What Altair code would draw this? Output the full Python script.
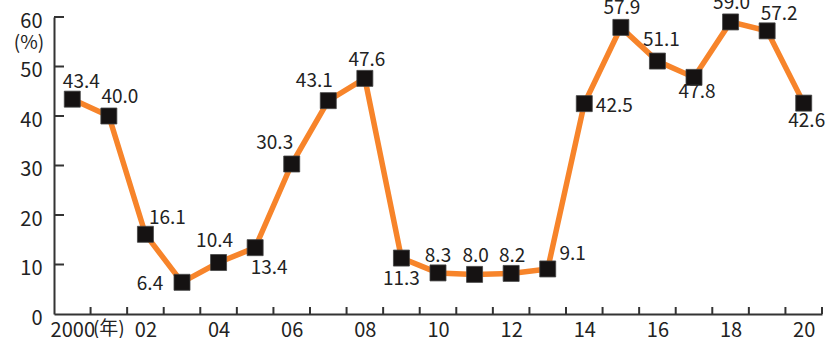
import altair as alt
import pandas as pd

YEARS = list(range(2000, 2021))
VALUES = [43.4, 40.0, 16.1, 6.4, 10.4, 13.4, 30.3, 43.1, 47.6, 11.3,
          8.3, 8.0, 8.2, 9.1, 42.5, 57.9, 51.1, 47.8, 59.0, 57.2, 42.6]
Y_TICKS = [0, 10, 20, 30, 40, 50, 60]
X_LABEL_YEARS = list(range(2000, 2021, 2))
X_TICK_POS = [y + 0.5 for y in range(2000, 2021)]

# label offsets (style): pixel dx, dy of each value label from its point
LABEL_DX = [9, 11, 22, -32, -4, 14, -17, -14, 2, 0, 0, 1, 1, 25, 30, 1, 4, 3, 1, 12, 3]
LABEL_DY = [-17, -19, -16, 2, -22, 20, -21, -20, -18, 21, -17, -18, -17, -15, 2, -19, -21, 15, -19, -17, 18]

W, H = 768, 297
FONT = "Noto Sans CJK JP"
ORANGE = "#F7842A"
INK = "#222222"

df = pd.DataFrame({"year": YEARS, "value": VALUES})
xscale = alt.Scale(domain=[1999.5, 2020.5], nice=False, zero=False)
yscale = alt.Scale(domain=[0, 60], nice=False)

base = alt.Chart(df)

line = base.mark_line(color=ORANGE, strokeWidth=5.5).encode(
    x=alt.X("year:Q", scale=xscale,
            axis=alt.Axis(values=X_LABEL_YEARS, grid=False, ticks=False, tickSize=0,
                          labelExpr="datum.value == 2000 ? '2000' : substring(toString(datum.value), 2, 4)",
                          labelFont=FONT, labelFontSize=20, labelColor=INK, labelPadding=6,
                          domainColor="#333333", domainWidth=2, title=None,
                          labelBaseline="top", labelFlush=False, labelOverlap=False)),
    y=alt.Y("value:Q", scale=yscale,
            axis=alt.Axis(values=Y_TICKS, grid=False, ticks=False, tickSize=0,
                          labelFont=FONT, labelFontSize=20, labelColor=INK, labelPadding=12,
                          labelOffset=4, domainColor="#333333", domainWidth=2, title=None,
                          labelFlush=False, labelOverlap=False)),
)

points = base.mark_square(size=256, color="#151212", opacity=1,
                          stroke="#444444", strokeWidth=0.8).encode(
    x=alt.X("year:Q", scale=xscale), y=alt.Y("value:Q", scale=yscale))

labels = []
for yr, dx, dy in zip(YEARS, LABEL_DX, LABEL_DY):
    labels.append(
        base.transform_filter(alt.datum.year == yr)
        .mark_text(font=FONT, fontSize=19, color=INK, dx=dx, dy=dy,
                   align="center", baseline="middle")
        .encode(x=alt.X("year:Q", scale=xscale), y=alt.Y("value:Q", scale=yscale),
                text=alt.Text("value:Q", format=".1f"))
    )

ytick_df = pd.DataFrame({"v": Y_TICKS[1:]})
yticks = alt.Chart(ytick_df).mark_rule(color="#333333", strokeWidth=2).encode(
    y=alt.Y("v:Q", scale=yscale), x=alt.value(0), x2=alt.value(10))

xtick_df = pd.DataFrame({"p": X_TICK_POS})
xticks = alt.Chart(xtick_df).mark_rule(color="#333333", strokeWidth=2).encode(
    x=alt.X("p:Q", scale=xscale), y=alt.value(H), y2=alt.value(H - 7))

unit_df = pd.DataFrame({"t": ["(%)"]})
unit = alt.Chart(unit_df).mark_text(font=FONT, fontSize=19, color=INK,
                                    align="center", baseline="middle").encode(
    text="t:N", x=alt.value(-25), y=alt.value(26))

nen_df = pd.DataFrame({"t": ["(年)"], "year": [2001]})
nen = alt.Chart(nen_df).mark_text(font=FONT, fontSize=19, color=INK,
                                  align="center", baseline="top", dy=6).encode(
    text="t:N", x=alt.X("year:Q", scale=xscale), y=alt.value(H))

chart = alt.layer(yticks, xticks, line, points, *labels, unit, nen).properties(
    width=W, height=H,
    autosize=alt.AutoSizeParams(type="none"),
    padding={"left": 54, "top": 17, "right": 11, "bottom": 24},
    background="white",
).configure_view(stroke=None)

chart.save("out.html", embed_options={"renderer": "svg", "actions": False})
